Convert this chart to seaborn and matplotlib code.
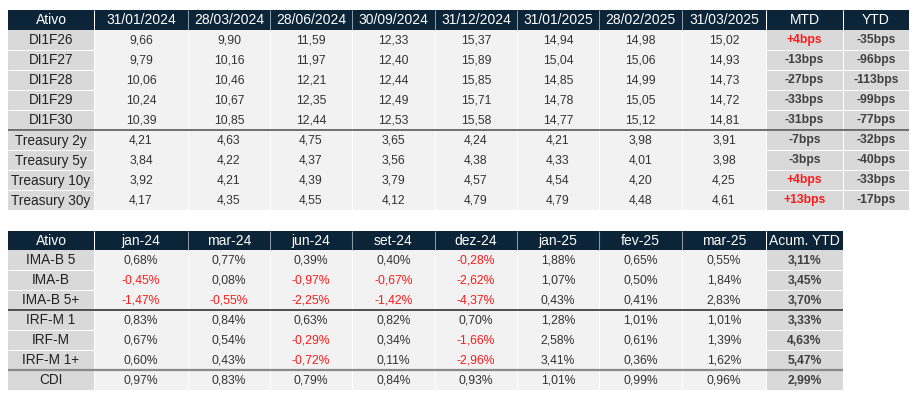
import numpy as np
import matplotlib
matplotlib.use("Agg")
import matplotlib.pyplot as plt
from matplotlib.colors import ListedColormap
import seaborn as sns

sns.set_theme(style="white")
plt.rcParams['font.family'] = ['Liberation Sans', 'DejaVu Sans']

# ---------------- data ----------------
top_header = ["Ativo", "31/01/2024", "28/03/2024", "28/06/2024", "30/09/2024",
              "31/12/2024", "31/01/2025", "28/02/2025", "31/03/2025", "MTD", "YTD"]
top_assets = ["DI1F26", "DI1F27", "DI1F28", "DI1F29", "DI1F30",
              "Treasury 2y", "Treasury 5y", "Treasury 10y", "Treasury 30y"]
di1f26 = [9.66, 9.90, 11.59, 12.33, 15.37, 14.94, 14.98, 15.02]
di1f27 = [9.79, 10.16, 11.97, 12.40, 15.89, 15.04, 15.06, 14.93]
di1f28 = [10.06, 10.46, 12.21, 12.44, 15.85, 14.85, 14.99, 14.73]
di1f29 = [10.24, 10.67, 12.35, 12.49, 15.71, 14.78, 15.05, 14.72]
di1f30 = [10.39, 10.85, 12.44, 12.53, 15.58, 14.77, 15.12, 14.81]
ust2y = [4.21, 4.63, 4.75, 3.65, 4.24, 4.21, 3.98, 3.91]
ust5y = [3.84, 4.22, 4.37, 3.56, 4.38, 4.33, 4.01, 3.98]
ust10y = [3.92, 4.21, 4.39, 3.79, 4.57, 4.54, 4.20, 4.25]
ust30y = [4.17, 4.35, 4.55, 4.12, 4.79, 4.79, 4.48, 4.61]
mtd_bps = [4, -13, -27, -33, -31, -7, -3, 4, 13]
ytd_bps = [-35, -96, -113, -99, -77, -32, -40, -33, -17]

bot_header = ["Ativo", "jan-24", "mar-24", "jun-24", "set-24", "dez-24",
              "jan-25", "fev-25", "mar-25", "Acum. YTD"]
bot_assets = ["IMA-B 5", "IMA-B", "IMA-B 5+", "IRF-M 1", "IRF-M", "IRF-M 1+", "CDI"]
imab5 = [0.68, 0.77, 0.39, 0.40, -0.28, 1.88, 0.65, 0.55]
imab = [-0.45, 0.08, -0.97, -0.67, -2.62, 1.07, 0.50, 1.84]
imab5p = [-1.47, -0.55, -2.25, -1.42, -4.37, 0.43, 0.41, 2.83]
irfm1 = [0.83, 0.84, 0.63, 0.82, 0.70, 1.28, 1.01, 1.01]
irfm = [0.67, 0.54, -0.29, 0.34, -1.66, 2.58, 0.61, 1.39]
irfm1p = [0.60, 0.43, -0.72, 0.11, -2.96, 3.41, 0.36, 1.62]
cdi = [0.97, 0.83, 0.79, 0.84, 0.93, 1.01, 0.99, 0.96]
acum_ytd = [3.11, 3.45, 3.70, 3.33, 4.63, 5.47, 2.99]

top_values = [di1f26, di1f27, di1f28, di1f29, di1f30, ust2y, ust5y, ust10y, ust30y]
bot_values = [imab5, imab, imab5p, irfm1, irfm, irfm1p, cdi]

# ---------------- layout / style ----------------
NAVY = "#0c2438"
LABEL_BG = "#d9d9d9"
DATA_BG = "#f2f2f2"
SUM_BG = "#d9d9d9"
TXT = "#333333"
RED = "#ff1a1a"
LW = 0.75  # ~1 px

col_w_top = [86, 94, 82, 82, 83, 82, 82, 83, 84, 77, 66]
col_w_bot = col_w_top[:10]
x0 = 8
row_h = 20

fig = plt.figure(figsize=(9.2, 4.01), dpi=100)
ax = fig.add_axes([0, 0, 1, 1])
ax.set_xlim(0, 920)
ax.set_ylim(401, 0)
ax.axis("off")

cmap = ListedColormap([NAVY, LABEL_BG, DATA_BG, SUM_BG])


def fmt(v, suffix=""):
    return f"{v:.2f}".replace(".", ",") + suffix


def draw_table(top, header_h, header, assets, values, extra_cols, col_w,
               seps):
    n_rows = len(assets)
    n_cols = len(header)
    n_extra = len(extra_cols)
    xe = x0 + np.concatenate([[0], np.cumsum(col_w)])
    ye = np.concatenate([[top], top + header_h + row_h * np.arange(n_rows + 1)])
    codes = np.full((n_rows + 1, n_cols), 2)
    codes[0, :] = 0
    codes[1:, 0] = 1
    codes[1:, n_cols - n_extra:] = 3
    ax.pcolormesh(xe, ye, codes, cmap=cmap, vmin=-0.5, vmax=3.5,
                  edgecolors="none", antialiased=False)
    # vertical separators
    for j in range(1, n_cols):
        ax.vlines(xe[j], ye[1], ye[-1], color="white", lw=LW)
        hdr_c = "#8c99a6" if 2 <= j <= n_cols - n_extra - 1 else "white"
        ax.vlines(xe[j], ye[0], ye[1], color=hdr_c, lw=LW)
    # horizontal white lines in label and summary columns
    for i in range(2, n_rows + 1):
        ax.hlines(ye[i], xe[0], xe[1], color="white", lw=LW)
        ax.hlines(ye[i], xe[n_cols - n_extra], xe[-1], color="white", lw=LW)
    xc = (xe[:-1] + xe[1:]) / 2
    yc = (ye[:-1] + ye[1:]) / 2
    for j, h in enumerate(header):
        ax.text(xc[j], yc[0] + 0.5, h, color="white", fontsize=10,
                ha="center", va="center")
    for i, a in enumerate(assets):
        ax.text(xc[0], yc[i + 1] + 0.5, a, color="#222222", fontsize=9.8,
                ha="center", va="center")
        for j, v in enumerate(values[i]):
            s, c = v
            ax.text(xc[j + 1], yc[i + 1] + 0.5, s, color=c, fontsize=8.7,
                    ha="center", va="center")
        for k, col in enumerate(extra_cols):
            s, c = col[i]
            ax.text(xc[n_cols - n_extra + k], yc[i + 1] + 0.5, s,
                    color=c, fontsize=8.7, fontweight="bold",
                    ha="center", va="center")
    for r, color, lw in seps:
        ax.hlines(ye[r + 1], xe[0], xe[-1], color=color, lw=lw)


# top table
top_cells = [[(fmt(v), TXT) for v in row] for row in top_values]
mtd_cells = [((f"+{b}bps" if b > 0 else f"{b}bps"), RED if b > 0 else "#404040")
             for b in mtd_bps]
ytd_cells = [((f"+{b}bps" if b > 0 else f"{b}bps"), RED if b > 0 else "#404040")
             for b in ytd_bps]
draw_table(10, 20, top_header, top_assets, top_cells, [mtd_cells, ytd_cells],
           col_w_top, [(5, "#5a5a5a", 1.2)])

# bottom table
bot_cells = [[(fmt(v, "%"), RED if v < 0 else TXT) for v in row]
             for row in bot_values]
acum_cells = [(fmt(v, "%"), "#404040") for v in acum_ytd]
draw_table(231, 19, bot_header, bot_assets, bot_cells, [acum_cells],
           col_w_bot, [(3, "#333333", 1.2), (6, "#8a8a8a", 1.6)])

fig.savefig("out.png", dpi=100)
